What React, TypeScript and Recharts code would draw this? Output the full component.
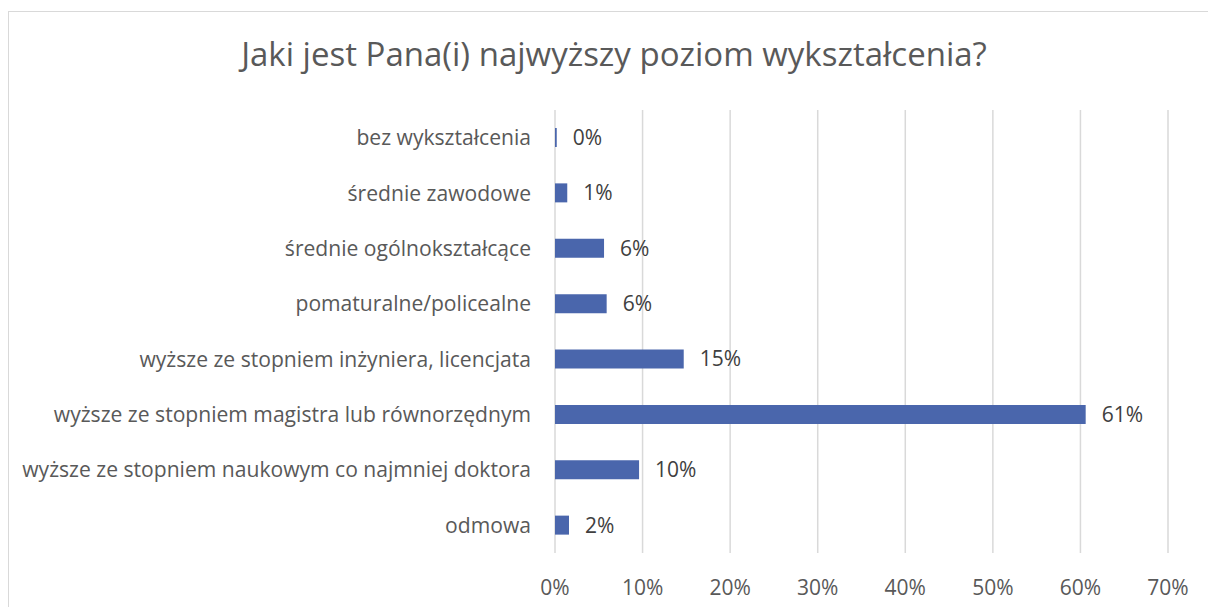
import { BarChart, Bar, XAxis, YAxis, CartesianGrid, LabelList } from "recharts";

const categories = [
  "bez wykształcenia",
  "średnie zawodowe",
  "średnie ogólnokształcące",
  "pomaturalne/policealne",
  "wyższe ze stopniem inżyniera, licencjata",
  "wyższe ze stopniem magistra lub równorzędnym",
  "wyższe ze stopniem naukowym co najmniej doktora",
  "odmowa",
];

const shares = [0.2, 1.4, 5.6, 5.9, 14.7, 60.6, 9.6, 1.6];

const xTicks = [0, 10, 20, 30, 40, 50, 60, 70];

const title = "Jaki jest Pana(i) najwyższy poziom wykształcenia?";

const data = categories.map((name, i) => ({ name, value: shares[i] }));

const FONT = "'Open Sans', sans-serif";

export default function App() {
  return (
    <div
      style={{
        position: "absolute",
        left: 8,
        top: 11,
        width: 1200,
        height: 610,
        border: "1px solid #d9d9d9",
        background: "#fff",
        fontFamily: FONT,
      }}
    >
      {/* title sits above the plot */}
      <div
        style={{
          position: "absolute",
          left: 0,
          top: 19,
          width: 1210,
          textAlign: "center",
          fontSize: 33,
          color: "#595959",
        }}
      >
        {title}
      </div>

      <BarChart
        width={1199}
        height={600}
        data={data}
        layout="vertical"
        margin={{ top: 98, right: 40, left: 0, bottom: 0 }}
        style={{ fontFamily: FONT }}
      >
        <CartesianGrid horizontal={false} stroke="#d9d9d9" strokeWidth={1.5} />
        <XAxis
          type="number"
          domain={[0, 70]}
          ticks={xTicks}
          tickFormatter={(v) => `${v}%`}
          axisLine={false}
          tickLine={false}
          tickSize={0}
          tickMargin={27}
          height={59}
          tick={{ fontSize: 21, fill: "#595959" }}
        />
        <YAxis
          type="category"
          dataKey="name"
          width={546}
          axisLine={false}
          tickLine={false}
          tickSize={0}
          tickMargin={24}
          interval={0}
          tick={{ fontSize: 21.1, fill: "#595959" }}
        />
        <Bar dataKey="value" fill="#4a66ac" barSize={19} isAnimationActive={false}>
          <LabelList
            dataKey="value"
            position="right"
            offset={16}
            formatter={(v: number) => `${Math.round(v)}%`}
            style={{ fontSize: 21, fill: "#404040" }}
          />
        </Bar>
      </BarChart>
    </div>
  );
}
